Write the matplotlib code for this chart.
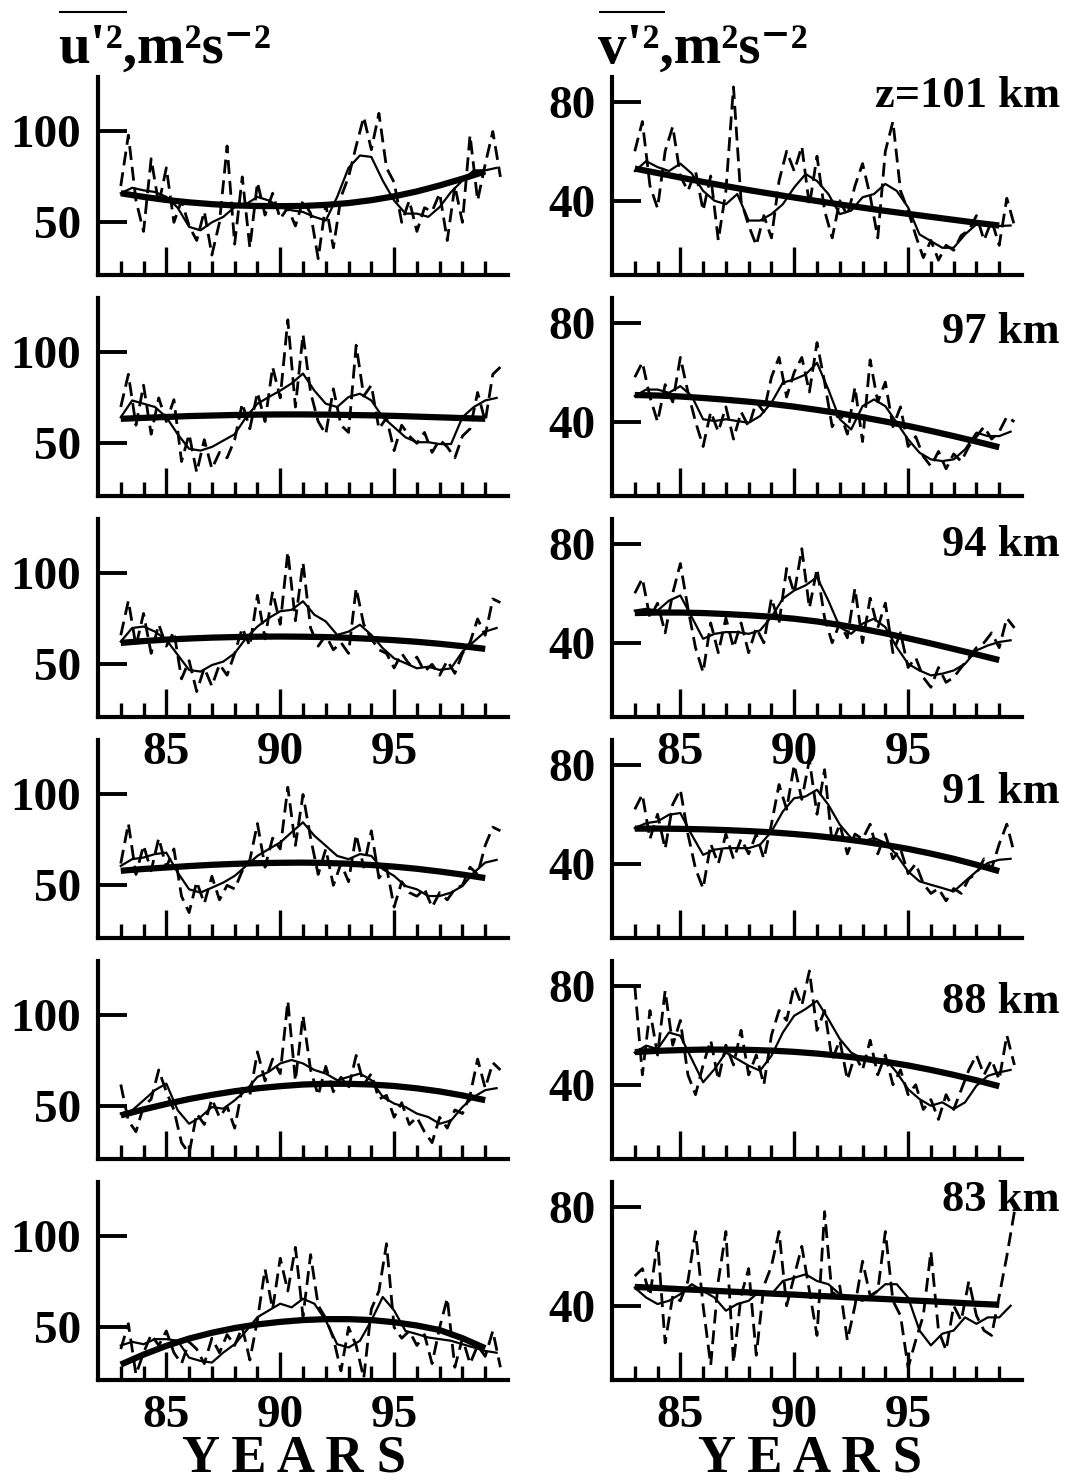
import numpy as np
import matplotlib
matplotlib.use("Agg")
import matplotlib.pyplot as plt
from matplotlib.lines import Line2D
from matplotlib.ticker import FixedLocator

plt.rcParams['font.family'] = ['Liberation Serif', 'DejaVu Serif']
plt.rcParams['font.weight'] = 'bold'

# time axes (years - 1900): 4-monthly values, half-year running mean, yearly fit
t_dash = np.arange(83, 99.9, 1 / 3)
t_smooth = np.arange(83, 99.6, 0.5)
t_fit = np.arange(83, 100)

heights = ["z=101 km", "97 km", "94 km", "91 km", "88 km", "83 km"]
year_labels = ["85", "90", "95"]

# ---- u'^2 (left column) ----
u101_dash = [70, 98, 62, 45, 85, 60, 80, 50, 62, 48, 40, 56, 32, 50, 92, 38, 75, 36, 72, 54,
             66, 52, 58, 48, 62, 55, 30, 60, 36, 64, 75, 92, 108, 90, 110, 80, 72, 50, 62, 45,
             58, 56, 66, 40, 70, 50, 98, 62, 82, 100, 75]
u101_smooth = [66, 69, 67.6, 66.7, 64, 58, 47.5, 45.6, 50, 53, 58.4, 60, 64, 62, 58.4, 56.6, 55.7,
               53, 51, 64, 80, 86.8, 86, 73, 62, 54.8, 54.8, 53, 58.4, 66.7, 73, 78.6, 78.6, 80]
u101_fit = [66, 64, 62.3, 61, 60, 59.3, 59, 58.9, 59, 59.6, 60.6, 62.2, 64.3, 67, 70.3, 74, 78]

u97_dash = [70, 88, 60, 82, 55, 75, 62, 74, 40, 55, 34, 52, 36, 45, 42, 52, 72, 58, 78, 62,
            92, 75, 118, 70, 110, 78, 62, 55, 80, 60, 56, 104, 76, 82, 58, 64, 46, 60, 54, 50,
            56, 45, 52, 48, 42, 54, 58, 78, 62, 88, 92]
u97_smooth = [64.4, 73.6, 71.8, 70, 64.4, 55, 47, 46, 48, 51.5, 55, 64.4, 71.8, 75.5, 79, 83, 88.4,
              79, 71.8, 70, 75.5, 77.3, 73.6, 64.4, 58.9, 53.3, 50.6, 50.6, 49.6, 49.6, 64.4, 70,
              73.6, 75]
u97_fit = [63.5, 64, 64.5, 65, 65.3, 65.6, 65.8, 65.9, 65.9, 65.8, 65.6, 65.4, 65.1, 64.7, 64.3,
           63.9, 63.5]

u94_dash = [66, 85, 60, 78, 56, 72, 60, 68, 42, 52, 35, 48, 38, 50, 44, 56, 70, 60, 88, 64,
            90, 72, 112, 74, 106, 70, 60, 66, 58, 62, 56, 92, 72, 64, 58, 56, 48, 56, 50, 54,
            46, 50, 44, 52, 45, 56, 62, 75, 66, 86, 84]
u94_smooth = [62.5, 70, 70.8, 68, 63.5, 55.2, 46.9, 46, 49.6, 51.5, 56.1, 64.4, 70.8, 75.5, 79.2,
              80, 84.7, 77.3, 73.6, 66.2, 68, 71.8, 66.2, 58.9, 53.3, 50.6, 47.8, 48.7, 46.9,
              47.8, 57, 62.5, 68, 70]
u94_fit = [61.8, 62.8, 63.6, 64.2, 64.7, 65.0, 65.2, 65.3, 65.2, 65.0, 64.6, 64.0, 63.3, 62.4,
           61.3, 60.0, 58.5]

u91_dash = [62, 84, 56, 72, 58, 76, 60, 70, 44, 35, 52, 40, 55, 42, 50, 48, 58, 64, 84, 60,
            76, 70, 104, 72, 100, 76, 56, 70, 50, 62, 52, 78, 60, 80, 54, 60, 38, 52, 46, 44,
            48, 38, 46, 42, 48, 50, 60, 56, 72, 82, 80]
u91_smooth = [60.7, 64.4, 65.3, 67.2, 68, 57, 47.8, 46, 48.7, 51.5, 55.2, 60.7, 66.2, 70, 73.6,
              79.2, 84.7, 77.3, 71.8, 66.2, 64.4, 67.2, 66.2, 58.9, 55.2, 49.6, 47.8, 44.1, 44.1,
              46, 49.6, 57, 62.5, 64]
u91_fit = [58, 59, 59.8, 60.6, 61.3, 61.8, 62.2, 62.4, 62.5, 62.3, 61.9, 61.2, 60.3, 59.1, 57.6,
           55.9, 54]

u88_dash = [62, 42, 36, 50, 54, 70, 58, 48, 30, 24, 46, 40, 54, 44, 50, 38, 60, 56, 80, 64,
            76, 68, 108, 64, 100, 70, 56, 72, 58, 66, 60, 78, 62, 68, 54, 56, 44, 52, 40, 44,
            36, 30, 44, 38, 48, 46, 56, 76, 60, 74, 70]
u88_smooth = [46, 47.8, 53.3, 58.9, 62.5, 47.8, 40.4, 44.1, 49.6, 48.7, 53.3, 58.9, 66.2, 69, 73.6,
              75.5, 73.6, 70, 68, 64.4, 66.2, 68, 64.4, 55.2, 51.5, 49.6, 46, 44.1, 40.4, 42.2,
              49.6, 55.2, 58.9, 60]
u88_fit = [45, 48.3, 51.3, 54.0, 56.3, 58.3, 59.9, 61.1, 62.0, 62.4, 62.4, 62.0, 61.2, 59.9, 58.2,
           56.0, 53.4]

u83_dash = [38, 52, 24, 36, 46, 40, 48, 36, 30, 42, 38, 30, 44, 36, 46, 40, 50, 32, 54, 82,
            60, 88, 70, 94, 56, 90, 62, 55, 44, 26, 50, 40, 22, 60, 70, 96, 50, 44, 48, 40,
            46, 30, 50, 66, 28, 44, 30, 40, 34, 48, 28]
u83_smooth = [40, 42, 40.7, 43.5, 43.5, 42.6, 33.3, 31.5, 30.6, 36.1, 40.7, 48, 55.6, 59.3, 63, 61,
              65.7, 63, 53.7, 40.7, 38.9, 42.6, 53.7, 66.7, 59.3, 48, 46.3, 44.4, 43.5, 42.6,
              40.7, 38.9, 37, 36]
u83_fit = [29.5, 35, 39.8, 43.8, 47, 49.6, 51.6, 53, 54, 54.5, 54.5, 54, 52.8, 51, 48.5, 44, 38.5]

# ---- v'^2 (right column) ----
v101_dash = [60, 72, 46, 37, 60, 70, 50, 44, 52, 36, 50, 24, 44, 86, 40, 30, 22, 34, 25, 48,
             60, 52, 62, 38, 58, 36, 25, 40, 34, 46, 55, 42, 25, 60, 72, 44, 36, 26, 17, 24,
             16, 22, 20, 26, 28, 34, 24, 32, 22, 41, 30]
v101_smooth = [52, 56, 53.6, 52, 55, 51, 44, 40, 38.6, 42.7, 32, 32, 34.6, 38.6, 45.4, 50.8, 48,
               42.7, 34.6, 36, 41.4, 42.7, 46.8, 44, 37.3, 26.4, 23.7, 21, 21, 26.4, 30.5, 30.5,
               29.8, 30]
v101_fit = [53, 51.2, 49.4, 47.6, 45.9, 44.3, 42.8, 41.3, 39.9, 38.5, 37.2, 35.9, 34.7, 33.5,
            32.3, 31.1, 30]

v97_dash = [58, 64, 50, 40, 55, 48, 66, 52, 40, 30, 44, 36, 46, 33, 44, 38, 48, 44, 58, 66,
            50, 60, 66, 52, 72, 56, 38, 44, 35, 54, 32, 65, 48, 56, 38, 46, 30, 34, 26, 22,
            28, 21, 27, 24, 30, 34, 38, 33, 36, 42, 40]
v97_smooth = [50.4, 53, 53, 51.7, 54.4, 50.4, 41, 40.3, 41, 40.3, 39.6, 42.3, 47.7, 55.8, 57.1,
              59.1, 63.8, 53, 41, 36.9, 46.3, 49, 46.3, 39.6, 32.9, 27.5, 24.8, 24.1, 24.8, 28.8,
              35.6, 34.2, 34.2, 36]
v97_fit = [50.8, 50.6, 50.2, 49.6, 48.9, 48.1, 47.2, 46.1, 44.8, 43.4, 41.8, 40.1, 38.3, 36.3,
           34.2, 32.0, 29.7]

v94_dash = [60, 66, 50, 56, 44, 60, 72, 54, 38, 28, 48, 36, 50, 38, 48, 36, 46, 40, 58, 48,
            70, 60, 78, 54, 70, 50, 40, 48, 42, 62, 40, 58, 46, 56, 36, 44, 30, 34, 26, 22,
            30, 24, 26, 30, 34, 38, 40, 44, 38, 50, 46]
v94_smooth = [53, 53.7, 53, 57, 59.1, 50.4, 41.6, 43.6, 44.3, 44.3, 43.6, 45, 50.4, 57.8, 61.1,
              63.2, 66.5, 57, 46.3, 43.6, 47.7, 49.7, 46.3, 38.2, 31.5, 28.8, 26.8, 27.5, 28.8,
              31.5, 36.9, 38.9, 40.3, 41]
v94_fit = [52, 52.2, 52.2, 52.0, 51.6, 51.1, 50.5, 49.7, 48.6, 47.2, 45.6, 43.8, 41.8, 39.7, 37.5,
           35.3, 33]

v91_dash = [62, 68, 50, 60, 46, 64, 70, 52, 38, 30, 48, 40, 52, 42, 50, 44, 52, 42, 56, 72,
            62, 80, 66, 82, 60, 78, 48, 56, 44, 52, 50, 56, 44, 52, 42, 46, 36, 40, 32, 28,
            30, 25, 30, 28, 34, 36, 42, 38, 48, 56, 44]
v91_smooth = [54.4, 56.4, 57.1, 59.8, 60.5, 51.7, 43.6, 45.7, 46.3, 46.3, 46.3, 47.7, 53, 61.1,
              66.5, 67.2, 69.9, 63.8, 55.8, 50.4, 49, 50.4, 48.4, 43.6, 36.9, 32.9, 31.5, 30.2,
              28.8, 32.9, 36.9, 40.3, 41.6, 42]
v91_fit = [54.2, 54.2, 54.1, 53.9, 53.6, 53.2, 52.7, 52.0, 51.2, 50.2, 49.0, 47.6, 46.0, 44.1,
           42.0, 39.6, 37]

v88_dash = [80, 44, 70, 52, 78, 56, 66, 44, 36, 48, 58, 42, 56, 48, 62, 44, 52, 40, 60, 70,
            66, 80, 72, 86, 62, 70, 50, 58, 42, 52, 46, 58, 44, 52, 40, 46, 36, 40, 30, 34,
            26, 36, 30, 38, 46, 52, 44, 50, 42, 60, 48]
v88_smooth = [53, 55.8, 54.4, 61.1, 59.8, 50.4, 41, 46.3, 53, 50.4, 47.7, 45.7, 51.7, 61.1, 67.9,
              70.6, 73.9, 66.5, 58.5, 53, 50.4, 49, 50.4, 45, 38.2, 34.2, 31.5, 32.9, 30.2, 32.9,
              39.6, 43.6, 45, 46]
v88_fit = [53.2, 53.7, 54.0, 54.2, 54.2, 54.1, 53.8, 53.3, 52.6, 51.7, 50.6, 49.3, 47.8, 46.0,
           44.0, 41.8, 39.4]

v83_dash = [52, 55, 44, 66, 25, 44, 42, 50, 70, 40, 16, 50, 70, 17, 44, 55, 20, 48, 56, 70,
            40, 52, 64, 46, 28, 78, 44, 48, 26, 40, 58, 44, 46, 70, 42, 36, 15, 26, 36, 62,
            30, 22, 40, 34, 50, 36, 30, 28, 44, 60, 78]
v83_smooth = [47.3, 43.3, 40.7, 42, 44.7, 48.7, 46, 43.3, 38, 40.7, 42, 46, 44.7, 50, 51.3, 52.7,
              50, 48.7, 44.7, 43.3, 42, 44.7, 48.7, 48.7, 43.3, 30, 24, 28.7, 30, 35.3, 32.7,
              35.3, 35.3, 40]
v83_fit = [47.6, 47.2, 46.7, 46.3, 45.8, 45.4, 44.9, 44.5, 44.0, 43.6, 43.1, 42.7, 42.2, 41.8,
           41.3, 40.8, 40.4]

u_series = [(u101_dash, u101_smooth, u101_fit), (u97_dash, u97_smooth, u97_fit),
            (u94_dash, u94_smooth, u94_fit), (u91_dash, u91_smooth, u91_fit),
            (u88_dash, u88_smooth, u88_fit), (u83_dash, u83_smooth, u83_fit)]
v_series = [(v101_dash, v101_smooth, v101_fit), (v97_dash, v97_smooth, v97_fit),
            (v94_dash, v94_smooth, v94_fit), (v91_dash, v91_smooth, v91_fit),
            (v88_dash, v88_smooth, v88_fit), (v83_dash, v83_smooth, v83_fit)]

W, H = 1071, 1484
fig = plt.figure(figsize=(W / 100, H / 100), dpi=100)
fig.patch.set_facecolor("white")

columns = [
    (98, u_series, (21, 130), [50, 100]),
    (612, v_series, (10, 90), [40, 80]),
]

for x0, series, ylim, yticks in columns:
    for r in range(6):
        bottom_px = 275 + 221 * r
        ax = fig.add_axes([x0 / W, 1 - bottom_px / H, 410 / W, 198 / H])
        ax.patch.set_visible(False)
        dash, smooth, fit = series[r]
        ax.plot(t_dash, dash, color="black", lw=2.0, ls=(0, (5, 2.5)))
        ax.plot(t_smooth, smooth, color="black", lw=1.6)
        ax.plot(t_fit, fit, color="black", lw=4.5, solid_capstyle="butt")

        ax.set_xlim(82, 100)
        ax.set_ylim(*ylim)
        for s in ("top", "right"):
            ax.spines[s].set_visible(False)
        for s in ("left", "bottom"):
            ax.spines[s].set_linewidth(3)

        ax.xaxis.set_major_locator(FixedLocator([85, 90, 95]))
        ax.xaxis.set_minor_locator(FixedLocator([y for y in range(83, 100) if y % 5 != 0]))
        ax.set_xticklabels(year_labels)
        ax.tick_params(axis="x", which="major", direction="in", length=20, width=2.4,
                       pad=11, labelsize=34)
        ax.tick_params(axis="x", which="minor", direction="in", length=10, width=2.4)
        ax.tick_params(axis="x", labelbottom=(r in (2, 5)))
        ax.set_yticks(yticks)
        ax.tick_params(axis="y", direction="in", length=21, width=2.8, pad=12, labelsize=34)

# column titles, with the overline drawn as a line
for x_txt, letter, (ol0, ol1) in ((58, "u", (60, 126)), (598, "v", (600, 664))):
    fig.text(x_txt / W, 1 - 63 / H, letter + "'\u00b2,m\u00b2s\u207b\u00b2", fontsize=41,
             va="baseline", ha="left")
    fig.add_artist(Line2D([ol0 / W, ol1 / W], [1 - 12 / H, 1 - 12 / H],
                          transform=fig.transFigure, color="black", lw=1.5))

# height labels
label_baselines = [107, 343, 556, 803, 1013, 1211]
for lab, yb in zip(heights, label_baselines):
    fig.text(1060 / W, 1 - yb / H, lab, fontsize=32, ha="right", va="baseline")

# x axis titles
for xc in (294, 810):
    fig.text(xc / W, 1 - 1483 / H, "Y E A R S", fontsize=38, ha="center", va="bottom")

fig.savefig("out.png", dpi=100, facecolor="white")
